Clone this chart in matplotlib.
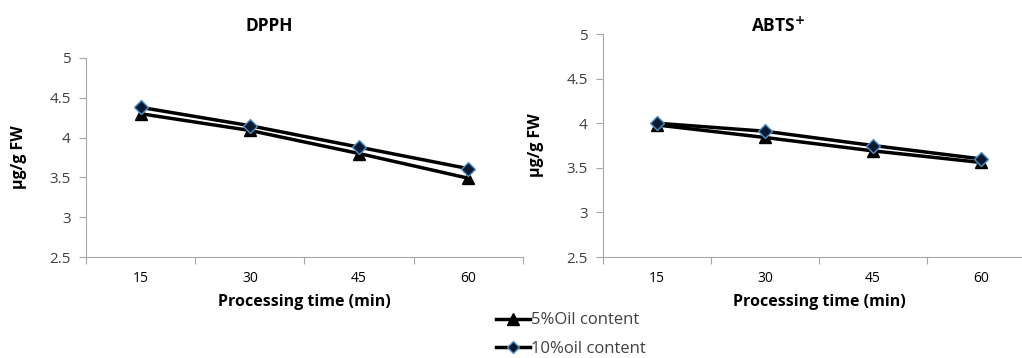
import matplotlib
matplotlib.use("Agg")
import matplotlib.pyplot as plt
from matplotlib.lines import Line2D

plt.rcParams['font.family'] = ['Open Sans', 'DejaVu Sans']

# Tiempos de procesado (min)
tiempos = ["15", "30", "45", "60"]

# DPPH (ug/g FW)
dpph_5 = [4.30, 4.09, 3.80, 3.49]
dpph_10 = [4.38, 4.15, 3.88, 3.61]
dpph_err = [0.03, 0.04, 0.03, 0.03]

# ABTS+ (ug/g FW)
abts_5 = [3.98, 3.84, 3.69, 3.56]
abts_10 = [4.00, 3.91, 3.75, 3.60]
abts_err = [0.04, 0.04, 0.03, 0.04]

etiquetas = ["5%Oil content", "10%oil content"]

GRIS = "#a6a6a6"
TEXTO = "#404040"


def panel(ax, y5, y10, err):
    x = list(range(len(tiempos)))
    ax.errorbar(x, y5, yerr=err, color="black", lw=2.5, marker="^", ms=8.5,
                mfc="black", mec="black", ecolor="#555555", elinewidth=1, capsize=0)
    ax.errorbar(x, y10, yerr=err, color="black", lw=2.5, marker="D", ms=7,
                mfc="#0b1a33", mec="#4f93c8", mew=1, ecolor="#555555",
                elinewidth=1, capsize=0)
    ax.set_xlim(-0.5, len(tiempos) - 0.5)
    ax.set_ylim(2.5, 5)
    ax.set_yticks([2.5, 3, 3.5, 4, 4.5, 5])
    ax.set_yticklabels(["2.5", "3", "3.5", "4", "4.5", "5"])
    ax.set_xticks([i - 0.5 for i in range(len(tiempos) + 1)])
    ax.set_xticklabels([])
    ax.set_xticks(x, minor=True)
    ax.set_xticklabels(tiempos, minor=True)
    ax.tick_params(axis="x", which="minor", length=0, pad=10)
    ax.tick_params(axis="x", which="major", length=5, color=GRIS, direction="out")
    ax.tick_params(axis="y", length=5, color=GRIS, pad=6)
    ax.tick_params(labelsize=11, labelcolor=TEXTO)
    for s in ["top", "right"]:
        ax.spines[s].set_visible(False)
    for s in ["left", "bottom"]:
        ax.spines[s].set_color(GRIS)
    ax.set_xlabel("Processing time (min)", fontsize=11.5, fontweight="bold", labelpad=6)
    ax.set_ylabel("µg/g FW", fontsize=11.5, fontweight="bold", labelpad=16)


fig = plt.figure(figsize=(10.22, 3.58), dpi=100)
ax1 = fig.add_axes([0.0841, 0.2821, 0.4276, 0.5559])
ax2 = fig.add_axes([0.590, 0.2821, 0.4227, 0.6229])

panel(ax1, dpph_5, dpph_10, dpph_err)
panel(ax2, abts_5, abts_10, abts_err)

# Titulos a la misma altura en ambos graficos
fig.text(0.263, 0.928, "DPPH", ha="center", va="center", fontsize=12.5, fontweight="bold")
fig.text(0.761, 0.928, "ABTS$^{\\mathbf{+}}$", ha="center", va="center", fontsize=12.5,
         fontweight="bold")

handles = [
    Line2D([], [], color="black", lw=2.5, marker="^", ms=8.5, mfc="black", mec="black"),
    Line2D([], [], color="black", lw=2.5, marker="D", ms=6.5, mfc="#0b1a33", mec="#4f93c8"),
]
fig.legend(handles, etiquetas, loc="center", bbox_to_anchor=(0.559, 0.065),
           frameon=False, fontsize=12, handlelength=2.0, handletextpad=0.1,
           labelspacing=0.75, labelcolor=TEXTO)

fig.savefig("out.png", dpi=100)
